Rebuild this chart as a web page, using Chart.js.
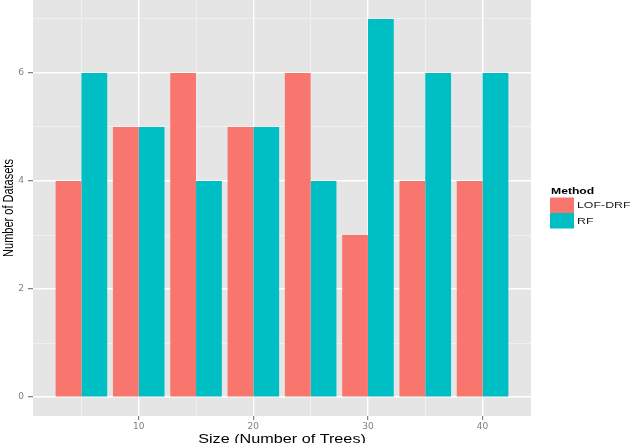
<!DOCTYPE html>
<html>
<head>
<meta charset="utf-8">
<script src="https://cdn.jsdelivr.net/npm/chart.js@4.4.1/dist/chart.umd.min.js"></script>
<style>
  html, body { margin: 0; padding: 0; background: #ffffff; }
  #wrap { width: 640px; height: 443px; position: relative; }
</style>
</head>
<body>
<div id="wrap"><canvas id="c"></canvas></div>
<script>
// ---- data ----
const sizes = [5, 10, 15, 20, 25, 30, 35, 40];
const lofDrf = [4, 5, 6, 5, 6, 3, 4, 4];
const rf = [6, 5, 4, 5, 4, 7, 6, 6];
const seriesNames = ['LOF-DRF', 'RF'];
const seriesColors = ['#F8766D', '#00BFC4'];
const xTickLabels = [10, 20, 30, 40];
const yTickLabels = [0, 2, 4, 6];
const xTitle = 'Size (Number of Trees)';
const yTitle = 'Number of Datasets';
const legendTitle = 'Method';

const panelBg = {
  id: 'panelBg',
  beforeDraw(chart) {
    const { ctx, chartArea: a } = chart;
    ctx.save();
    ctx.fillStyle = '#E5E5E5';
    ctx.fillRect(a.left, a.top, a.right - a.left, a.bottom - a.top);
    ctx.restore();
  }
};

function stretchedText(ctx, text, x, y, font, color, align, baseline, sx, rot) {
  ctx.save();
  ctx.translate(x, y);
  ctx.scale(sx, 1);
  if (rot) ctx.rotate(rot);
  ctx.font = font;
  ctx.fillStyle = color;
  ctx.textAlign = align;
  ctx.textBaseline = baseline;
  ctx.fillText(text, 0, 0);
  ctx.restore();
}

const textLayer = {
  id: 'textLayer',
  afterDraw(chart) {
    const { ctx, chartArea: a } = chart;
    // axis titles
    stretchedText(ctx, xTitle, (a.left + a.right) / 2, 442.5,
      '12px "Liberation Sans", Arial, sans-serif', '#000000', 'center', 'alphabetic', 1.35, 0);
    stretchedText(ctx, yTitle, 9, (a.top + a.bottom) / 2,
      '11px "Liberation Sans", Arial, sans-serif', '#000000', 'center', 'middle', 1.3, -Math.PI / 2);
    // legend
    const lx = a.right + 19;
    stretchedText(ctx, legendTitle, lx + 1, 193.5,
      'bold 9.5px "Liberation Sans", Arial, sans-serif', '#000000', 'left', 'alphabetic', 1.28, 0);
    const keyW = 24, keyH = 15.5, keyTop = 197.5;
    chart.data.datasets.forEach((ds, i) => {
      const ky = keyTop + i * keyH;
      ctx.save();
      ctx.fillStyle = ds.backgroundColor;
      ctx.fillRect(lx, ky, keyW, keyH);
      ctx.restore();
      stretchedText(ctx, ds.label, lx + keyW + 3, ky + keyH / 2 + 0.3,
        '9.5px "Liberation Sans", Arial, sans-serif', '#1a1a1a', 'left', 'middle', 1.3, 0);
    });
  }
};

const isMajorX = v => v % 10 === 0;
const isMajorY = v => v % 2 === 0;

new Chart(document.getElementById('c'), {
  type: 'bar',
  data: {
    datasets: [
      { label: seriesNames[0], data: sizes.map((s, i) => ({ x: s, y: lofDrf[i] })), backgroundColor: seriesColors[0], borderWidth: 0 },
      { label: seriesNames[1], data: sizes.map((s, i) => ({ x: s, y: rf[i] })), backgroundColor: seriesColors[1], borderWidth: 0 }
    ]
  },
  options: {
    responsive: true,
    maintainAspectRatio: false,
    animation: false,
    layout: { padding: { left: 0, right: 109, top: 0, bottom: 0 } },
    datasets: { bar: { categoryPercentage: 0.9, barPercentage: 1.0 } },
    plugins: { legend: { display: false }, tooltip: { enabled: false }, title: { display: false } },
    scales: {
      x: {
        type: 'linear',
        min: 0.775,
        max: 44.225,
        offset: false,
        border: { display: false },
        grid: {
          offset: false,
          drawTicks: true,
          tickLength: 4,
          tickWidth: 1,
          color: c => isMajorX(c.tick.value) ? '#FFFFFF' : '#F3F3F3',
          lineWidth: c => isMajorX(c.tick.value) ? 1.4 : 0.8,
          tickColor: c => isMajorX(c.tick.value) ? '#666666' : 'rgba(0,0,0,0)'
        },
        ticks: {
          stepSize: 5,
          includeBounds: false,
          autoSkip: false,
          maxRotation: 0,
          padding: 1,
          color: '#7F7F7F',
          font: { family: '"DejaVu Sans", sans-serif', size: 9 },
          callback: v => xTickLabels.includes(v) ? String(v) : ''
        },
        afterFit: s => { s.height = 27; s.paddingLeft = 0; s.paddingRight = 0; }
      },
      y: {
        type: 'linear',
        min: -0.35,
        max: 7.35,
        border: { display: false },
        grid: {
          drawTicks: true,
          tickLength: 5,
          tickWidth: 1,
          color: c => isMajorY(c.tick.value) ? '#FFFFFF' : '#F3F3F3',
          lineWidth: c => isMajorY(c.tick.value) ? 1.4 : 0.8,
          tickColor: c => isMajorY(c.tick.value) ? '#666666' : 'rgba(0,0,0,0)'
        },
        ticks: {
          stepSize: 1,
          includeBounds: false,
          autoSkip: false,
          padding: 4,
          color: '#7F7F7F',
          font: { family: '"DejaVu Sans", sans-serif', size: 9 },
          callback: v => yTickLabels.includes(v) ? String(v) : ''
        },
        afterFit: s => { s.width = 33; s.paddingTop = 0; s.paddingBottom = 0; }
      }
    }
  },
  plugins: [panelBg, textLayer]
});
</script>
</body>
</html>
